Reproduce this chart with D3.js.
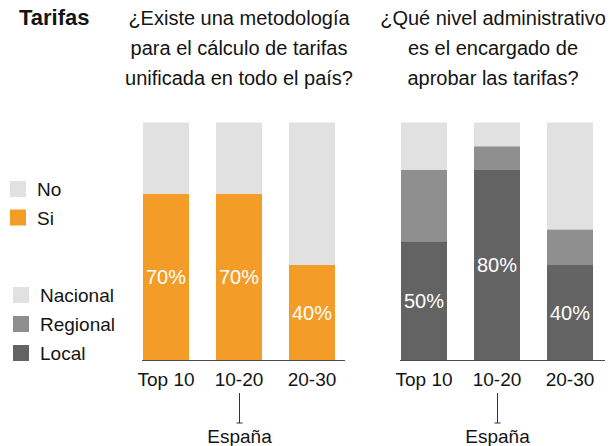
<!DOCTYPE html>
<html>
<head>
<meta charset="utf-8">
<script src="https://cdn.jsdelivr.net/npm/d3@7/dist/d3.min.js"></script>
<style>
  html, body { margin: 0; padding: 0; background: #fff; }
  svg { display: block; font-family: "Liberation Sans", Arial, Helvetica, sans-serif; }
</style>
</head>
<body>
<svg id="chart" width="612" height="446"></svg>
<script>
// Categories (city size groups)
const categories = ["Top 10", "10-20", "20-30"];

// Left panel: unified tariff methodology
const siValues = [70, 70, 40];
const noValues = [30, 30, 60];

// Right panel: administrative level approving tariffs
const localValues = [50, 80, 40];
const regionalValues = [30, 10, 15];
const nacionalValues = [20, 10, 45];

// Texts
const mainTitle = "Tarifas";
const leftTitle = ["¿Existe una metodología", "para el cálculo de tarifas", "unificada en todo el país?"];
const rightTitle = ["¿Qué nivel administrativo", "es el encargado de", "aprobar las tarifas?"];
const legend1 = ["No", "Si"];
const legend2 = ["Nacional", "Regional", "Local"];
const highlightCategory = "10-20";
const highlightLabel = "España";

const colors = {
  No: "#e1e1e1", Si: "#f39c27",
  Nacional: "#e1e1e1", Regional: "#8f8f8f", Local: "#636363"
};
const textColor = "#141414";

const svg = d3.select("#chart");

// Shared vertical scale (percent)
const y = d3.scaleLinear().domain([0, 100]).range([360, 122.5]);

svg.append("text")
  .attr("x", 19).attr("y", 25)
  .attr("font-size", 22).attr("font-weight", "bold").attr("fill", textColor)
  .text(mainTitle);

function drawPanel(opts) {
  const x = d3.scaleBand().domain(categories).range(opts.range)
    .paddingInner(0.37).paddingOuter(0);

  // Title lines
  const t = svg.append("text").attr("text-anchor", "middle")
    .attr("font-size", 20).attr("fill", textColor);
  opts.title.forEach((line, i) => {
    t.append("tspan").attr("x", opts.titleX).attr("y", 25 + i * 30).text(line);
  });

  // Stacked bars
  const rows = categories.map((c, i) => {
    const r = { cat: c };
    opts.keys.forEach(k => r[k] = opts.series[k][i]);
    return r;
  });
  const stack = d3.stack().keys(opts.keys)(rows);

  const g = svg.append("g");
  g.selectAll("g.layer").data(stack).join("g")
    .attr("class", "layer")
    .attr("fill", d => colors[d.key])
    .selectAll("rect").data(d => d).join("rect")
      .attr("x", d => x(d.data.cat))
      .attr("width", x.bandwidth())
      .attr("y", d => y(d[1]))
      .attr("height", d => y(d[0]) - y(d[1]));

  // Percent labels in the bottom segment
  const base = stack[0];
  g.selectAll("text.val").data(base).join("text")
    .attr("class", "val")
    .attr("x", d => x(d.data.cat) + x.bandwidth() / 2)
    .attr("y", d => (y(d[0]) + y(d[1])) / 2)
    .attr("dy", "0.36em")
    .attr("text-anchor", "middle")
    .attr("font-size", 20).attr("fill", "#fff")
    .text(d => (d[1] - d[0]) + "%");

  // Baseline
  svg.append("line")
    .attr("x1", opts.range[0] - 1).attr("x2", opts.range[1] + opts.axisExtra)
    .attr("y1", y(0) + 0.5).attr("y2", y(0) + 0.5)
    .attr("stroke", "#4a4a4a").attr("stroke-width", 1.2);

  // Category axis
  const axis = svg.append("g").attr("transform", `translate(0,${y(0)})`)
    .call(d3.axisBottom(x).tickSize(0).tickPadding(13));
  axis.select(".domain").remove();
  axis.selectAll("text")
    .attr("font-size", 19).attr("fill", textColor)
    .attr("font-family", "Liberation Sans, Arial, Helvetica, sans-serif");

  // Pointer to the highlighted group
  const cx = Math.round(x(highlightCategory) + x.bandwidth() / 2) + 0.5;
  svg.append("line").attr("x1", cx).attr("x2", cx).attr("y1", 393).attr("y2", 423)
    .attr("stroke", "#333").attr("stroke-width", 1);
  svg.append("line").attr("x1", cx - 3).attr("x2", cx + 3).attr("y1", 423).attr("y2", 423)
    .attr("stroke", "#333").attr("stroke-width", 1);
  svg.append("text").attr("x", cx).attr("y", 443)
    .attr("text-anchor", "middle").attr("font-size", 19).attr("fill", textColor)
    .text(highlightLabel);
}

drawPanel({
  range: [143, 335], axisExtra: 10, titleX: 239,
  title: leftTitle,
  keys: ["Si", "No"],
  series: { Si: siValues, No: noValues }
});

drawPanel({
  range: [401, 593], axisExtra: 12, titleX: 493,
  title: rightTitle,
  keys: ["Local", "Regional", "Nacional"],
  series: { Local: localValues, Regional: regionalValues, Nacional: nacionalValues }
});

// Legends
function drawLegend(items, x0, y0, step) {
  const g = svg.append("g");
  items.forEach((name, i) => {
    g.append("rect").attr("x", x0).attr("y", y0 + i * step)
      .attr("width", 16).attr("height", 16).attr("fill", colors[name]);
    g.append("text").attr("x", x0 + 27).attr("y", y0 + i * step + 15)
      .attr("font-size", 19).attr("fill", textColor).text(name);
  });
}
drawLegend(legend1, 10, 181, 28.5);
drawLegend(legend2, 13, 287, 29);
</script>
</body>
</html>
